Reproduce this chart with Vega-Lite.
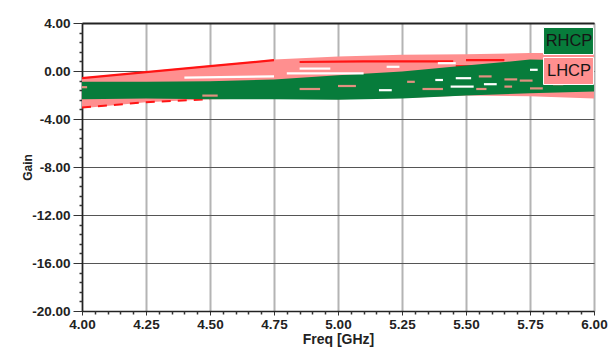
{
  "$schema": "https://vega.github.io/schema/vega-lite/v6.json",
  "width": 512,
  "height": 288,
  "autosize": "none",
  "padding": {"left": 82, "top": 23, "right": 19, "bottom": 43},
  "background": "white",
  "config": {"view": {"stroke": null}, "font": "Liberation Sans"},
  "datasets": {
    "bands": [
      {"series": "LHCP", "freq": 4.0, "hi": -0.55, "lo": -3.1},
      {"series": "LHCP", "freq": 4.125, "hi": -0.3, "lo": -2.85},
      {"series": "LHCP", "freq": 4.25, "hi": -0.05, "lo": -2.6},
      {"series": "LHCP", "freq": 4.5, "hi": 0.45, "lo": -2.35},
      {"series": "LHCP", "freq": 4.75, "hi": 0.95, "lo": -2.3},
      {"series": "LHCP", "freq": 5.0, "hi": 1.2, "lo": -2.35},
      {"series": "LHCP", "freq": 5.25, "hi": 1.35, "lo": -2.25},
      {"series": "LHCP", "freq": 5.5, "hi": 1.4, "lo": -2.05},
      {"series": "LHCP", "freq": 5.75, "hi": 1.5, "lo": -2.1},
      {"series": "LHCP", "freq": 6.0, "hi": 1.5, "lo": -2.3},
      {"series": "RHCP", "freq": 4.0, "hi": -0.9, "lo": -2.35},
      {"series": "RHCP", "freq": 4.25, "hi": -0.9, "lo": -2.3},
      {"series": "RHCP", "freq": 4.5, "hi": -0.85, "lo": -2.35},
      {"series": "RHCP", "freq": 4.75, "hi": -0.7, "lo": -2.35},
      {"series": "RHCP", "freq": 5.0, "hi": -0.35, "lo": -2.4},
      {"series": "RHCP", "freq": 5.25, "hi": -0.05, "lo": -2.3},
      {"series": "RHCP", "freq": 5.5, "hi": 0.45, "lo": -2.05},
      {"series": "RHCP", "freq": 5.75, "hi": 0.95, "lo": -1.85},
      {"series": "RHCP", "freq": 6.0, "hi": 0.85, "lo": -1.7}
    ],
    "redLines": [
      {"seg": "a", "freq": 4.0, "gain": -0.6},
      {"seg": "a", "freq": 4.25, "gain": -0.1},
      {"seg": "a", "freq": 4.5, "gain": 0.4},
      {"seg": "a", "freq": 4.75, "gain": 0.9},
      {"seg": "b", "freq": 4.85, "gain": 0.75},
      {"seg": "b", "freq": 5.1, "gain": 0.8},
      {"seg": "b", "freq": 5.45, "gain": 0.8},
      {"seg": "c", "freq": 5.5, "gain": 0.9},
      {"seg": "c", "freq": 5.65, "gain": 0.9},
      {"seg": "d", "freq": 5.46, "gain": 0.4},
      {"seg": "d", "freq": 5.57, "gain": 0.4},
      {"seg": "e", "freq": 5.16, "gain": -1.0},
      {"seg": "e", "freq": 5.2, "gain": -1.0}
    ],
    "redDash": [
      {"seg": "a", "freq": 4.0, "gain": -3.05},
      {"seg": "a", "freq": 4.25, "gain": -2.6},
      {"seg": "a", "freq": 4.5, "gain": -2.35}
    ],
    "whiteLines": [
      {"seg": "a", "freq": 4.4, "gain": -0.55},
      {"seg": "a", "freq": 4.75, "gain": -0.45},
      {"seg": "b", "freq": 4.8, "gain": -0.2},
      {"seg": "b", "freq": 5.1, "gain": -0.2},
      {"seg": "c", "freq": 4.85, "gain": 0.2},
      {"seg": "c", "freq": 4.97, "gain": 0.2},
      {"seg": "d", "freq": 5.19, "gain": 0.35},
      {"seg": "d", "freq": 5.24, "gain": 0.35},
      {"seg": "e", "freq": 5.39, "gain": 0.65},
      {"seg": "e", "freq": 5.46, "gain": 0.65},
      {"seg": "f", "freq": 5.38, "gain": -0.75},
      {"seg": "f", "freq": 5.41, "gain": -0.75},
      {"seg": "g", "freq": 5.46, "gain": -0.6},
      {"seg": "g", "freq": 5.52, "gain": -0.6},
      {"seg": "h", "freq": 5.16, "gain": -1.6},
      {"seg": "h", "freq": 5.21, "gain": -1.6},
      {"seg": "i", "freq": 5.44, "gain": -1.3},
      {"seg": "i", "freq": 5.53, "gain": -1.3},
      {"seg": "j", "freq": 5.57, "gain": -1.1},
      {"seg": "j", "freq": 5.62, "gain": -1.1},
      {"seg": "k", "freq": 5.75, "gain": 0.1},
      {"seg": "k", "freq": 5.78, "gain": 0.1}
    ],
    "pinkLines": [
      {"seg": "a", "freq": 4.47, "gain": -2.05},
      {"seg": "a", "freq": 4.53, "gain": -2.05},
      {"seg": "b", "freq": 4.85, "gain": -1.5},
      {"seg": "b", "freq": 4.93, "gain": -1.5},
      {"seg": "c", "freq": 5.0, "gain": -1.25},
      {"seg": "c", "freq": 5.07, "gain": -1.25},
      {"seg": "d", "freq": 5.27, "gain": -0.9},
      {"seg": "d", "freq": 5.3, "gain": -0.9},
      {"seg": "e", "freq": 5.33, "gain": -1.5},
      {"seg": "e", "freq": 5.41, "gain": -1.5},
      {"seg": "f", "freq": 5.54, "gain": -1.5},
      {"seg": "f", "freq": 5.58, "gain": -1.5},
      {"seg": "g", "freq": 5.55, "gain": -0.45},
      {"seg": "g", "freq": 5.6, "gain": -0.45},
      {"seg": "h", "freq": 5.65, "gain": -0.7},
      {"seg": "h", "freq": 5.7, "gain": -0.7},
      {"seg": "i", "freq": 5.65, "gain": -1.3},
      {"seg": "i", "freq": 5.68, "gain": -1.3},
      {"seg": "j", "freq": 5.71, "gain": -0.8},
      {"seg": "j", "freq": 5.76, "gain": -0.8},
      {"seg": "k", "freq": 5.84, "gain": -1.1},
      {"seg": "k", "freq": 5.88, "gain": -1.1},
      {"seg": "l", "freq": 4.0, "gain": -1.35},
      {"seg": "l", "freq": 4.02, "gain": -1.35},
      {"seg": "m", "freq": 5.75, "gain": -1.45},
      {"seg": "m", "freq": 5.8, "gain": -1.45}
    ]
  },
  "layer": [
    {
      "data": {"name": "bands"},
      "transform": [{"filter": "datum.series === 'LHCP'"}],
      "mark": {"type": "area", "opacity": 1, "interpolate": "linear"},
      "encoding": {
        "x": {
          "field": "freq", "type": "quantitative",
          "scale": {"domain": [4, 6], "nice": false, "zero": false},
          "axis": {
            "title": "Freq [GHz]", "values": [4, 4.25, 4.5, 4.75, 5, 5.25, 5.5, 5.75, 6],
            "format": ".2f", "labelFlush": false, "labelFont": "Liberation Sans", "labelFontWeight": "bold", "labelFontSize": 13.5,
            "labelColor": "#222", "labelPadding": 2, "tickSize": 4, "tickColor": "#333",
            "domainColor": "#222", "domainWidth": 1.5,
            "grid": true, "gridColor": "#b4b4b4", "gridWidth": 2,
            "titleFont": "Liberation Sans", "titleFontWeight": "bold", "titleFontSize": 14, "titleColor": "#222", "titlePadding": 2
          }
        },
        "y": {
          "field": "hi", "type": "quantitative",
          "scale": {"domain": [-20, 4], "nice": false, "zero": false},
          "axis": {
            "title": "Gain", "values": [-20, -16, -12, -8, -4, 0, 4],
            "labelExpr": "(datum.value < 0 ? '-' : '') + format(abs(datum.value), '.2f')",
            "labelFlush": false, "labelFont": "Liberation Sans", "labelFontWeight": "bold", "labelFontSize": 13.5,
            "labelColor": "#222", "labelPadding": 3, "tickSize": 9, "tickColor": "#333",
            "domainColor": "#222", "domainWidth": 1.5,
            "grid": true, "gridColor": "#555", "gridWidth": 1,
            "titleFont": "Liberation Sans", "titleFontWeight": "bold", "titleFontSize": 12, "titleColor": "#222",
            "titleX": -55, "titleY": 144, "titleAlign": "center", "titleBaseline": "middle", "titleAngle": -90
          }
        },
        "y2": {"field": "lo"},
        "color": {
          "field": "series", "type": "nominal",
          "scale": {"domain": ["RHCP", "LHCP"], "range": ["#077c3b", "#ff8f8f"]},
          "legend": {
            "orient": "none", "legendX": 472.5, "legendY": 4, "title": null,
            "symbolType": "M-1.85,-1H1.85V1H-1.85Z", "symbolSize": 729,
            "symbolStrokeColor": "white", "symbolStrokeWidth": 1, "symbolOpacity": 1,
            "labelOffset": -13.5, "labelAlign": "center", "labelFont": "Liberation Sans",
            "labelFontSize": 16.5, "labelColor": "#151515", "rowPadding": -2, "padding": 0
          }
        }
      }
    },
    {
      "data": {"name": "redLines"},
      "mark": {"type": "line", "color": "#ff1414", "strokeWidth": 2.2},
      "encoding": {
        "x": {"field": "freq", "type": "quantitative", "axis": null},
        "y": {"field": "gain", "type": "quantitative", "axis": null},
        "detail": {"field": "seg"}
      }
    },
    {
      "data": {"name": "redDash"},
      "mark": {"type": "line", "color": "#ff1414", "strokeWidth": 2, "strokeDash": [9, 7]},
      "encoding": {
        "x": {"field": "freq", "type": "quantitative", "axis": null},
        "y": {"field": "gain", "type": "quantitative", "axis": null},
        "detail": {"field": "seg"}
      }
    },
    {
      "data": {"name": "bands"},
      "transform": [{"filter": "datum.series === 'RHCP'"}],
      "mark": {"type": "area", "opacity": 1, "interpolate": "linear"},
      "encoding": {
        "x": {"field": "freq", "type": "quantitative", "axis": {
          "orient": "bottom", "values": [4.05, 4.1, 4.15, 4.2, 4.3, 4.35, 4.4, 4.45, 4.55, 4.6, 4.65, 4.7, 4.8, 4.85, 4.9, 4.95, 5.05, 5.1, 5.15, 5.2, 5.3, 5.35, 5.4, 5.45, 5.55, 5.6, 5.65, 5.7, 5.8, 5.85, 5.9, 5.95],
          "labels": false, "domain": false, "grid": false, "title": null, "tickSize": 3, "tickColor": "#333", "tickWidth": 1.5
        }},
        "y": {"field": "hi", "type": "quantitative", "axis": {
          "orient": "left", "values": [-19.2, -18.4, -17.6, -16.8, -15.2, -14.4, -13.6, -12.8, -11.2, -10.4, -9.6, -8.8, -7.2, -6.4, -5.6, -4.8, -3.2, -2.4, -1.6, -0.8, 0.8, 1.6, 2.4, 3.2],
          "labels": false, "domain": false, "grid": false, "title": null, "tickSize": 3, "tickColor": "#333", "tickWidth": 1.5
        }},
        "y2": {"field": "lo"},
        "color": {"field": "series", "type": "nominal"}
      }
    },
    {
      "data": {"name": "whiteLines"},
      "mark": {"type": "line", "color": "#ffffff", "strokeWidth": 2.2},
      "encoding": {
        "x": {"field": "freq", "type": "quantitative", "axis": {
          "orient": "top", "labels": false, "ticks": false, "grid": false, "title": null,
          "domain": true, "domainColor": "#222", "domainWidth": 2
        }},
        "y": {"field": "gain", "type": "quantitative", "axis": null},
        "detail": {"field": "seg"}
      }
    },
    {
      "data": {"name": "pinkLines"},
      "mark": {"type": "line", "color": "#e39080", "strokeWidth": 2.2},
      "encoding": {
        "x": {"field": "freq", "type": "quantitative", "axis": null},
        "y": {"field": "gain", "type": "quantitative", "axis": null},
        "detail": {"field": "seg"}
      }
    }
  ],
  "resolve": {"axis": {"x": "independent", "y": "independent"}}
}
